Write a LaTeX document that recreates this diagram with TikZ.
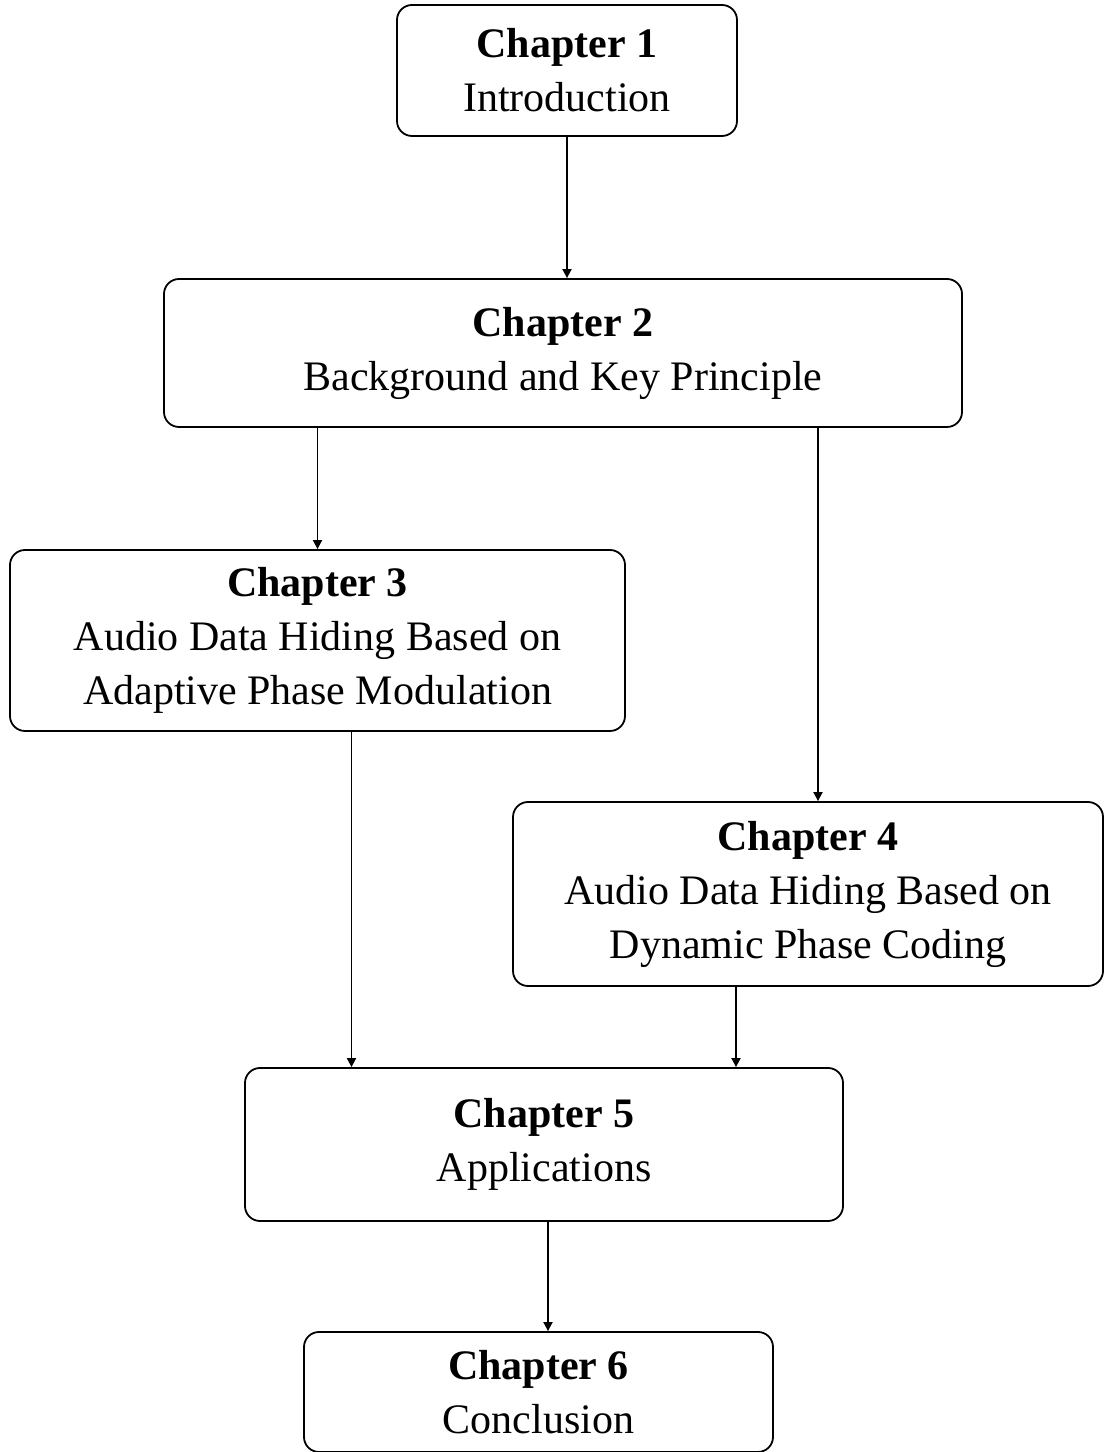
\documentclass[tikz,border=0pt]{standalone}
\usepackage{fontspec}
\setmainfont{Liberation Serif}
\usetikzlibrary{arrows.meta, positioning}

\begin{document}
\begin{tikzpicture}[
    x=0.5pt, y=0.5pt,
    chapbox/.style={draw, line width=0.9pt, rounded corners=7.5pt, align=center,
        inner sep=0pt, font=\fontsize{21}{27}\selectfont},
    flow/.style={-{Triangle[length=4.5pt, width=4.5pt]}, line width=0.9pt},
]
    \useasboundingbox (0,0) rectangle (1104,1452);

    % Chapters
    \node[chapbox, minimum width=170pt, minimum height=65.5pt] (ch1) at (567,1381.5)
        {\textbf{Chapter 1}\\Introduction};
    \node[chapbox, minimum width=399pt, minimum height=74pt] (ch2) at (563,1099)
        {\textbf{Chapter 2}\\Background and Key Principle};
    \node[chapbox, minimum width=307.5pt, minimum height=90.5pt] (ch3) at (317.5,811.5)
        {\textbf{Chapter 3}\\Audio Data Hiding Based on\\Adaptive Phase Modulation};
    \node[chapbox, minimum width=295pt, minimum height=92pt] (ch4) at (808,558)
        {\textbf{Chapter 4}\\Audio Data Hiding Based on\\Dynamic Phase Coding};
    \node[chapbox, minimum width=299pt, minimum height=76.5pt] (ch5) at (544,307.5)
        {\textbf{Chapter 5}\\Applications};
    \node[chapbox, minimum width=234.5pt, minimum height=60pt] (ch6) at (538.5,60)
        {\textbf{Chapter 6}\\Conclusion};

    % Reading order
    \draw[flow] (ch1.south) -- (ch1.south |- ch2.north);
    \draw[flow] (ch3.north |- ch2.south) -- (ch3.north);
    \draw[flow] ([xshift=5pt]ch4.north |- ch2.south) -- ([xshift=5pt]ch4.north);
    \draw[flow] ([xshift=17pt]ch3.south) -- ([xshift=17pt]ch3.south |- ch5.north);
    \draw[flow] ([xshift=-36pt]ch4.south) -- ([xshift=-36pt]ch4.south |- ch5.north);
    \draw[flow] ([xshift=2pt]ch5.south) -- ([xshift=2pt]ch5.south |- ch6.north);
\end{tikzpicture}
\end{document}
